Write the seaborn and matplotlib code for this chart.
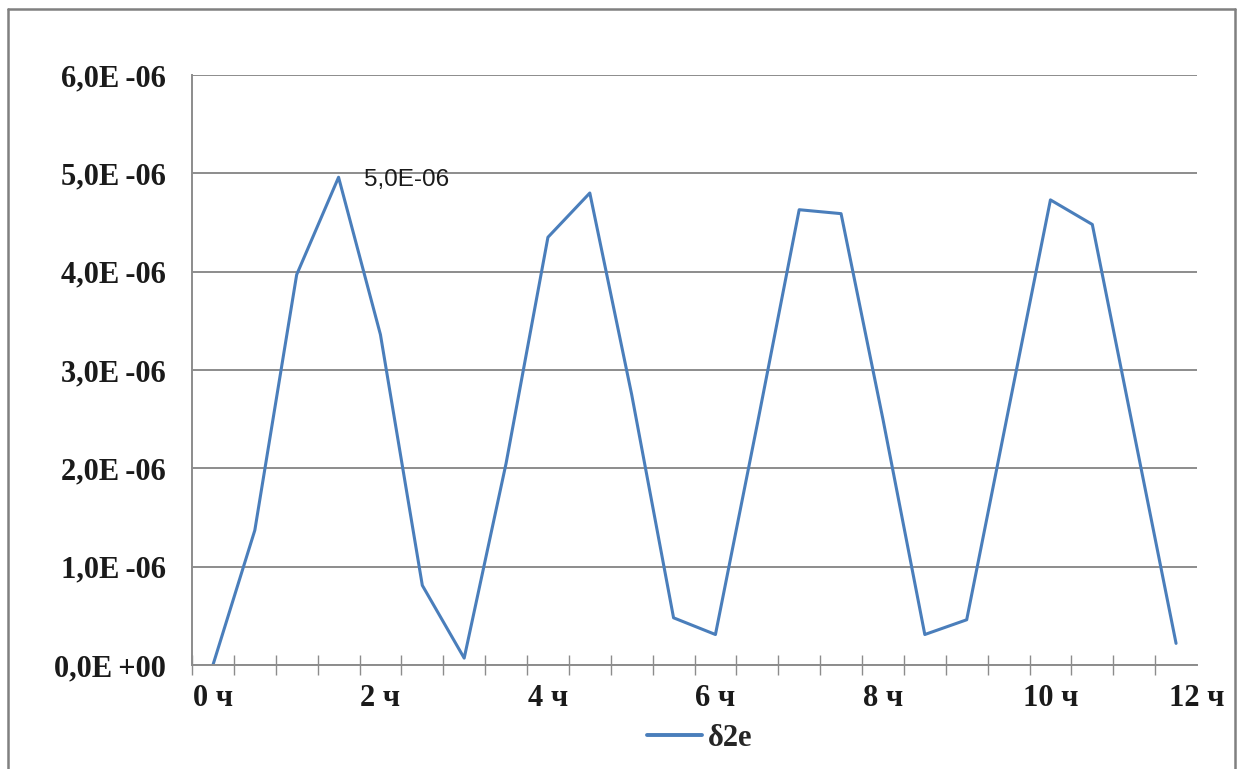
import matplotlib
matplotlib.use("Agg")
import matplotlib.pyplot as plt
from matplotlib.lines import Line2D
from matplotlib.ticker import FuncFormatter, FixedLocator
import seaborn as sns
import numpy as np

# Half-hour samples of the δ2e series (values in units of 1E-06)
hours = [i * 0.5 for i in range(24)]
delta_2e_micro = [0.00, 1.37, 3.97, 4.96, 3.36, 0.81, 0.07, 2.05,
                  4.35, 4.80, 2.75, 0.48, 0.31, 2.45, 4.63, 4.59,
                  2.50, 0.31, 0.46, 2.60, 4.73, 4.48, 2.35, 0.22]
delta_2e = [v * 1e-6 for v in delta_2e_micro]
series_name = "δ2e"
x_label_hours = [0, 2, 4, 6, 8, 10, 12]
x_label_text = ["0 ч", "2 ч", "4 ч", "6 ч", "8 ч", "10 ч", "12 ч"]
peak_index = 3
peak_text = "5,0E-06"

sns.set_theme(style="white")
plt.rcParams["font.family"] = ["Liberation Serif", "DejaVu Serif"]

fig = plt.figure(figsize=(12.49, 7.69), dpi=100)
ax = fig.add_axes([192 / 1249, 1 - 665 / 769, (1197 - 192) / 1249, (665 - 75) / 769])

line_color = "#4A7EBB"
sns.lineplot(x=hours, y=delta_2e, ax=ax, color=line_color, linewidth=2.2,
             label=series_name, legend=False)

# axis ranges: categories are half-hour slots centred on the samples
ax.set_xlim(-0.25, 11.75)
ax.set_ylim(0, 6e-6)
ax.set_yticks(np.arange(0, 6.01e-6, 1e-6))

def sci_comma(v, pos):
    return f"{v:.1E}".replace(".", ",").replace("E", "E\u2009")

ax.yaxis.set_major_formatter(FuncFormatter(sci_comma))

# category boundaries get crossing tick marks, labels every 2 hours
boundaries = [h + 0.25 for h in [-0.5] + hours]
ax.xaxis.set_minor_locator(FixedLocator(boundaries))
label_pos = [min(h, 11.75) for h in x_label_hours]
ax.set_xticks(label_pos)
ax.set_xticklabels(x_label_text)
ax.tick_params(axis="x", which="major", length=0, pad=14,
               labelsize=22)
ax.tick_params(axis="x", which="minor", direction="inout", length=15,
               width=1.0, color="#8c8c8c", bottom=True)
ax.tick_params(axis="y", which="both", length=0, pad=19, labelsize=22)
for lab in ax.get_xticklabels() + ax.get_yticklabels():
    lab.set_fontweight("bold")
    lab.set_color("#1a1a1a")

ax.grid(axis="y", color="#8c8c8c", linewidth=1.4)
ax.grid(axis="x", visible=False)
for side in ["top", "right"]:
    ax.spines[side].set_visible(False)
for side in ["left", "bottom"]:
    ax.spines[side].set_color("#8c8c8c")
    ax.spines[side].set_linewidth(1.4)

# value label at the first peak
ax.annotate(peak_text, xy=(hours[peak_index], delta_2e[peak_index]),
            xytext=(18, -2), textcoords="offset points", ha="left",
            va="center", fontsize=17.5, color="#1a1a1a",
            family=["Liberation Sans", "DejaVu Sans"])

handle = Line2D([], [], color=line_color, linewidth=2.8)
leg = fig.legend([handle], [series_name], loc="center",
                 bbox_to_anchor=(700 / 1249, 1 - 738 / 769), frameon=False,
                 handlelength=1.8, handletextpad=0.2,
                 prop={"family": "Liberation Serif", "weight": "bold", "size": 22})

# chart frame
frame_kw = dict(color="#808080", linewidth=1.8, transform=fig.transFigure)
fig.add_artist(Line2D([8 / 1249, 8 / 1249], [0, 1 - 9 / 769], **frame_kw))
fig.add_artist(Line2D([8 / 1249, 1235 / 1249], [1 - 9 / 769, 1 - 9 / 769], **frame_kw))
fig.add_artist(Line2D([1235 / 1249, 1235 / 1249], [0, 1 - 9 / 769], **frame_kw))

fig.savefig("out.png", dpi=100, facecolor="white")
